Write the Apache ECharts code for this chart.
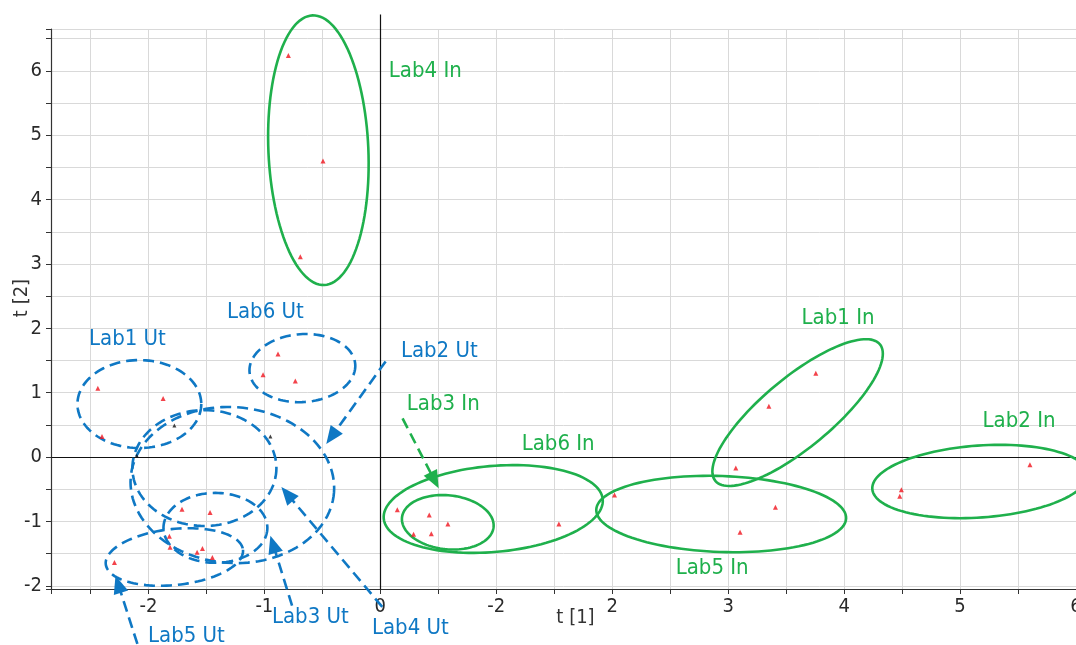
<!DOCTYPE html>
<html>
<head>
<meta charset="utf-8">
<script src="https://cdn.jsdelivr.net/npm/echarts@6/dist/echarts.min.js"></script>
<style>
html,body{margin:0;padding:0;background:#fff;}
#chart{width:1076px;height:645px;}
</style>
</head>
<body>
<div id="chart"></div>
<script>
// ---- data ----
var redX = [-0.793, -0.494, -0.690, -2.436, -1.873, -2.400, -0.882, -1.011, -0.733,
            -1.710, -1.468, -1.819, -1.813, -1.580, -1.534, -1.448, -2.293,
            0.147, 0.422, 0.583, 0.287, 0.440, 1.540, 2.020,
            3.756, 3.351, 3.066, 3.408, 3.103, 4.494, 4.480, 5.603];
var redY = [6.24, 4.60, 3.11, 1.07, 0.91, 0.32, 1.60, 1.28, 1.18,
            -0.81, -0.86, -1.23, -1.40, -1.48, -1.42, -1.56, -1.64,
            -0.82, -0.90, -1.04, -1.20, -1.19, -1.04, -0.59,
            1.30, 0.79, -0.17, -0.78, -1.17, -0.51, -0.61, -0.12];
var blackX = [-1.776, -0.948, -2.100];
var blackY = [0.49, 0.32, 0.02];

// ellipses: [centerX, centerY, semiAxisX, semiAxisY, rotationDeg]
var inEllipses = [
  [-0.534, 4.767, 0.431, 2.096, -2.5],  // Lab4 In
  [3.599, 0.691, 0.922, 0.543, -39.7],  // Lab1 In
  [5.172, -0.380, 0.931, 0.559, -4],    // Lab2 In
  [2.940, -0.885, 1.078, 0.590, 2],     // Lab5 In
  [0.974, -0.807, 0.948, 0.668, -5],    // Lab6 In
  [0.582, -1.014, 0.397, 0.419, 6]      // Lab3 In
];
var utEllipses = [
  [-2.078, 0.823, 0.534, 0.683, 0],     // Lab1 Ut
  [-0.672, 1.382, 0.457, 0.528, -4],    // Lab6 Ut
  [-1.276, -0.435, 0.879, 1.211, 4],    // Lab2 Ut
  [-1.517, -0.171, 0.621, 0.900, 0],    // Lab4 Ut
  [-1.422, -1.100, 0.448, 0.543, 0],    // Lab3 Ut
  [-1.776, -1.553, 0.595, 0.435, -6]    // Lab5 Ut
];

var inLabels = ['Lab4 In', 'Lab1 In', 'Lab2 In', 'Lab5 In', 'Lab6 In', 'Lab3 In'];
var inLabelX = [0.388, 3.948, 5.509, 2.862, 1.534, 0.543];
var inLabelY = [6.000, 2.160, 0.550, -1.735, 0.205, 0.812];
var utLabels = ['Lab1 Ut', 'Lab6 Ut', 'Lab2 Ut', 'Lab4 Ut', 'Lab3 Ut', 'Lab5 Ut'];
var utLabelX = [-2.181, -0.991, 0.509, 0.259, -0.603, -1.672];
var utLabelY = [1.822, 2.255, 1.650, -2.665, -2.495, -2.790];

// arrows: [tailX, tailY, tipX, tipY]
var inArrows = [
  [0.192, 0.601, 0.503, -0.486]         // Lab3 In
];
var utArrows = [
  [0.046, 1.486, -0.466, 0.202],        // Lab2 Ut
  [-0.761, -2.309, -0.948, -1.222],     // Lab3 Ut
  [0.017, -2.329, -0.853, -0.466],      // Lab4 Ut
  [-2.095, -2.904, -2.284, -1.843]      // Lab5 Ut
];

var xTickValues = [-2, -1, 0, 1, 2, 3, 4, 5, 6];
var xTickLabels = ['-2', '-1', '0', '-2', '2', '3', '4', '5', '6'];
var yTickValues = [-2, -1, 0, 1, 2, 3, 4, 5, 6];
var yTickLabels = ['-2', '-1', '0', '1', '2', '3', '4', '5', '6'];
var xMin = -2.84, xMax = 6, yMin = -2.05, yMax = 6.65, yAxisLineTop = 6.88;

// ---- style ----
var GREEN = '#1fb04c';
var BLUE = '#0f78c4';
var FONT = "'DejaVu Sans Condensed', 'DejaVu Sans', sans-serif";

function tickFmt(values, labels) {
  return function (v) {
    for (var i = 0; i < values.length; i++) {
      if (Math.abs(values[i] - v) < 1e-6) return labels[i];
    }
    return '';
  };
}

function ellipseRender(color, dash) {
  return function (params, api) {
    var c = api.coord([api.value(0), api.value(1)]);
    var s = api.size([1, 1]);
    var a = api.value(2) * s[0], b = api.value(3) * s[1];
    var th = api.value(4) * Math.PI / 180;
    var pts = [];
    var N = 120;
    for (var k = 0; k < N; k++) {
      var t = 2 * Math.PI * k / N;
      var ex = a * Math.cos(t), ey = b * Math.sin(t);
      pts.push([c[0] + ex * Math.cos(th) - ey * Math.sin(th),
                c[1] + ex * Math.sin(th) + ey * Math.cos(th)]);
    }
    return {
      type: 'polygon',
      shape: { points: pts },
      style: { fill: null, stroke: color, lineWidth: 2.6, lineDash: dash }
    };
  };
}

function arrowRender(color, dash) {
  return function (params, api) {
    var p1 = api.coord([api.value(0), api.value(1)]);
    var p2 = api.coord([api.value(2), api.value(3)]);
    var dx = p2[0] - p1[0], dy = p2[1] - p1[1];
    var L = Math.sqrt(dx * dx + dy * dy);
    var ux = dx / L, uy = dy / L;
    var hl = 18, hw = 7.5;
    var base = [p2[0] - ux * hl, p2[1] - uy * hl];
    return {
      type: 'group',
      children: [
        { type: 'line', shape: { x1: p1[0], y1: p1[1], x2: base[0] + ux * 2, y2: base[1] + uy * 2 },
          style: { stroke: color, lineWidth: 2.6, lineDash: dash } },
        { type: 'polygon', shape: { points: [p2,
            [base[0] - uy * hw, base[1] + ux * hw],
            [base[0] + uy * hw, base[1] - ux * hw]] },
          style: { fill: color, stroke: null } }
      ]
    };
  };
}

function labelRender(color, names) {
  return function (params, api) {
    var p = api.coord([api.value(0), api.value(1)]);
    return {
      type: 'text',
      x: p[0], y: p[1],
      style: { text: names[params.dataIndex], fill: color, font: '22px ' + FONT,
               align: 'center', verticalAlign: 'middle' }
    };
  };
}

function zip(a, b) { return a.map(function (v, i) { return [v, b[i]]; }); }

var chart = echarts.init(document.getElementById('chart'), null, { renderer: 'canvas' });
chart.setOption({
  animation: false,
  backgroundColor: '#ffffff',
  grid: { left: 51, right: 0, top: 29, bottom: 56, containLabel: false, outerBoundsMode: 'none' },
  xAxis: {
    type: 'value', min: xMin, max: xMax, splitNumber: 18,
    minInterval: 0.5, maxInterval: 0.5,
    name: 't [1]', nameLocation: 'middle', nameGap: 19, nameMoveOverlap: false,
    nameTextStyle: { fontFamily: FONT, fontSize: 20, color: '#333', padding: [0, 0, 0, 24] },
    axisLine: { onZero: false, lineStyle: { color: '#333', width: 1.2 } },
    axisTick: { show: true, length: 5, lineStyle: { color: '#333' } },
    axisLabel: { fontFamily: FONT, fontSize: 20, color: '#2a2a2a', margin: 8,
                 formatter: tickFmt(xTickValues, xTickLabels), showMinLabel: true, showMaxLabel: true, hideOverlap: false },
    splitLine: { show: true, lineStyle: { color: '#d9d9d9', width: 1 } }
  },
  yAxis: {
    type: 'value', min: yMin, max: yMax, splitNumber: 17,
    minInterval: 0.5, maxInterval: 0.5,
    name: 't [2]', nameLocation: 'middle', nameGap: 19, nameMoveOverlap: false,
    nameTextStyle: { fontFamily: FONT, fontSize: 20, color: '#333', padding: [0, 0, 0, 22] },
    axisLine: { onZero: false, lineStyle: { color: '#333', width: 1.2 } },
    axisTick: { show: true, length: 5, lineStyle: { color: '#333' } },
    axisLabel: { fontFamily: FONT, fontSize: 20, color: '#2a2a2a', margin: 9,
                 formatter: tickFmt(yTickValues, yTickLabels), hideOverlap: false },
    splitLine: { show: true, lineStyle: { color: '#d9d9d9', width: 1 } }
  },
  series: [
    {
      type: 'custom', name: 'zero lines', silent: true, clip: false, z: 3,
      data: [[0, yMin, 0, yAxisLineTop], [xMin, 0, xMax, 0]],
      renderItem: function (params, api) {
        var p1 = api.coord([api.value(0), api.value(1)]);
        var p2 = api.coord([api.value(2), api.value(3)]);
        return { type: 'line', shape: { x1: Math.round(p1[0]) + 0.5, y1: Math.round(p1[1]) + 0.5,
                                        x2: Math.round(p2[0]) + 0.5, y2: Math.round(p2[1]) + 0.5 },
                 style: { stroke: '#111', lineWidth: 1.2 } };
      }
    },
    { type: 'custom', name: 'In ellipses', silent: true, clip: false, z: 4,
      data: inEllipses, renderItem: ellipseRender(GREEN, null) },
    { type: 'custom', name: 'Ut ellipses', silent: true, clip: false, z: 4,
      data: utEllipses, renderItem: ellipseRender(BLUE, [11, 6]) },
    { type: 'custom', name: 'In arrows', silent: true, clip: false, z: 4,
      data: inArrows, renderItem: arrowRender(GREEN, [11, 6]) },
    { type: 'custom', name: 'Ut arrows', silent: true, clip: false, z: 4,
      data: utArrows, renderItem: arrowRender(BLUE, [11, 6]) },
    { type: 'custom', name: 'In labels', silent: true, clip: false, z: 5,
      data: zip(inLabelX, inLabelY), renderItem: labelRender(GREEN, inLabels) },
    { type: 'custom', name: 'Ut labels', silent: true, clip: false, z: 5,
      data: zip(utLabelX, utLabelY), renderItem: labelRender(BLUE, utLabels) },
    { type: 'scatter', name: 'obs', symbol: 'triangle', symbolSize: 5, z: 6,
      itemStyle: { color: '#f0141e' }, data: zip(redX, redY) },
    { type: 'scatter', name: 'obs2', symbol: 'triangle', symbolSize: 4, z: 6,
      itemStyle: { color: '#111' }, data: zip(blackX, blackY) }
  ]
});
</script>
</body>
</html>
